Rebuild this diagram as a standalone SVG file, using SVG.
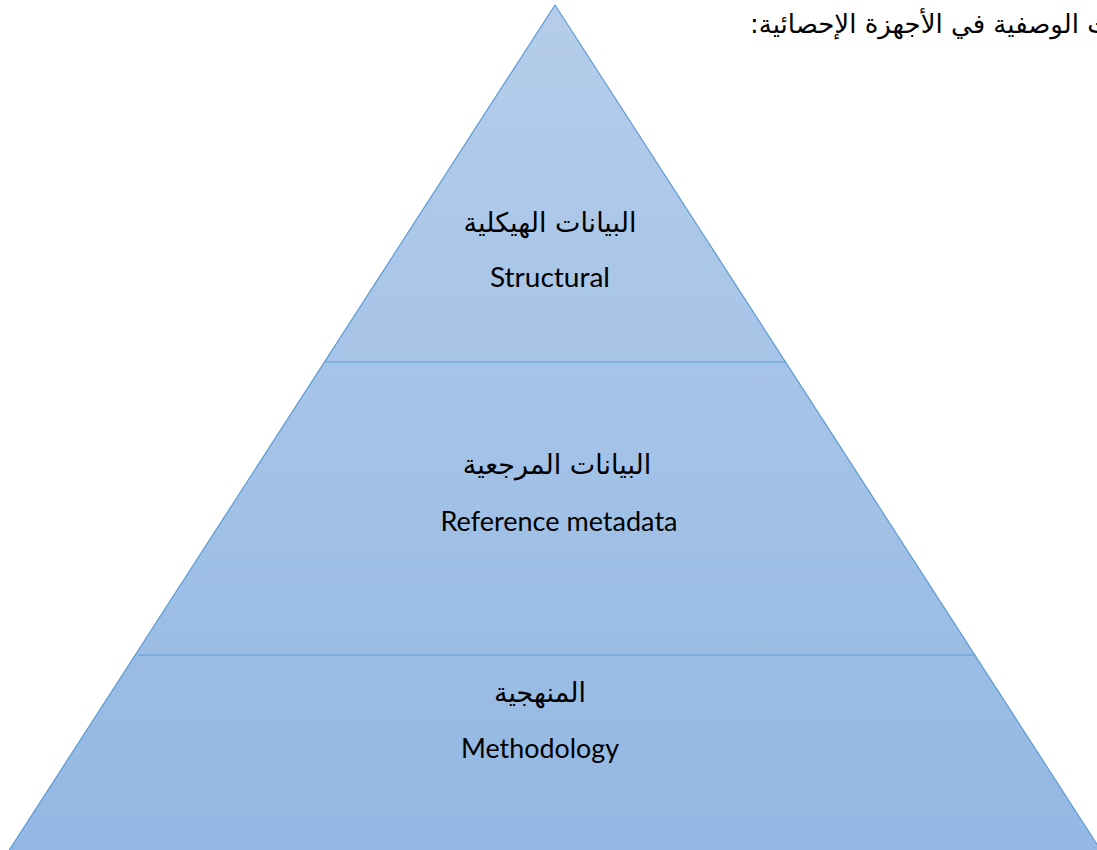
<svg xmlns="http://www.w3.org/2000/svg" width="1097" height="850" viewBox="0 0 1097 850">
<defs>
<linearGradient id="g" x1="0" y1="5" x2="0" y2="850" gradientUnits="userSpaceOnUse">
<stop offset="0" stop-color="#b5cdea"/>
<stop offset="1" stop-color="#93b8e3"/>
</linearGradient>
<style>
.ar{font-family:"DejaVu Sans","Noto Sans",sans-serif;font-size:27px;fill:#000;text-anchor:middle}
.en{font-family:Lato,"Liberation Sans",sans-serif;font-size:27px;fill:#000;text-anchor:middle}
.div{stroke:#5b9bd5;stroke-width:1;fill:none}
</style>
</defs>
<rect width="1097" height="850" fill="#fff"/>
<text x="750" y="33" direction="rtl" text-anchor="end" font-family="DejaVu Sans, Noto Sans, sans-serif" font-size="26">البيانات الوصفية في الأجهزة الإحصائية:</text>
<g id="pyramid">
<polygon points="555,5 8,852 1102,852" fill="url(#g)" stroke="#5b9bd5" stroke-width="1.2"/>
</g>
<g id="connectors">
<line class="div" x1="325" y1="362" x2="785" y2="362"/>
<line class="div" x1="138" y1="655" x2="974" y2="655"/>
</g>
<g id="structural">
<text class="ar" x="550" y="232">البيانات الهيكلية</text>
<text class="en" x="550" y="287" textLength="120" lengthAdjust="spacingAndGlyphs">Structural</text>
</g>
<g id="reference">
<text class="ar" x="557" y="474">البيانات المرجعية</text>
<text class="en" x="559" y="531" textLength="237" lengthAdjust="spacingAndGlyphs">Reference metadata</text>
</g>
<g id="methodology">
<text class="ar" x="540" y="702">المنهجية</text>
<text class="en" x="540" y="758" textLength="158" lengthAdjust="spacingAndGlyphs">Methodology</text>
</g>
</svg>
